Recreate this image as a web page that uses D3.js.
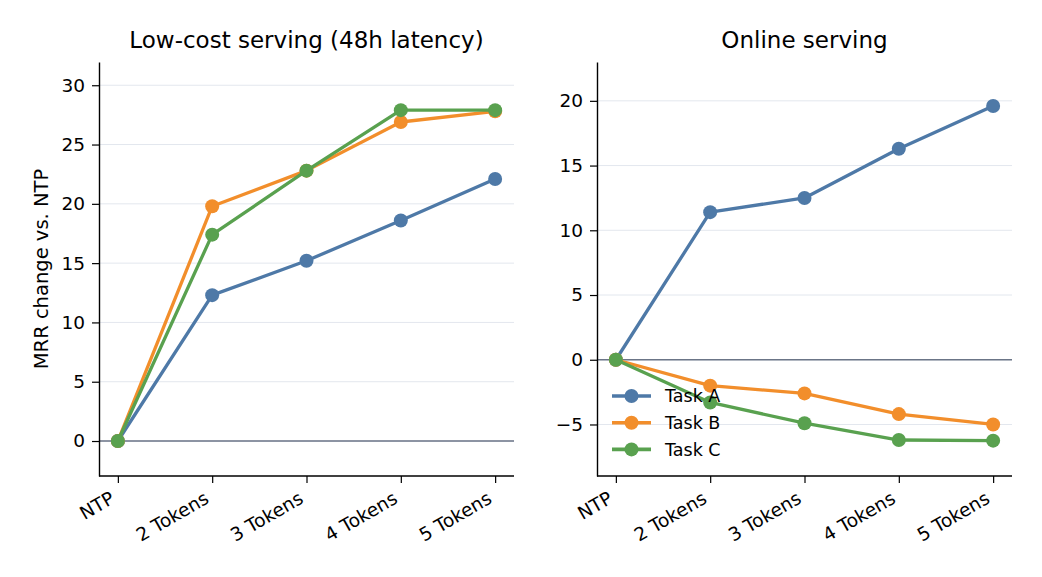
<!DOCTYPE html>
<html>
<head>
<meta charset="utf-8">
<script src="https://cdn.jsdelivr.net/npm/d3@7"></script>
<style>
  body { margin: 0; background: #fff; }
  svg { display: block; font-family: "DejaVu Sans", sans-serif; }
</style>
</head>
<body>
<div id="chart"></div>
<script>
const steps = ['NTP', '2 Tokens', '3 Tokens', '4 Tokens', '5 Tokens'];
const tasks = ['Task A', 'Task B', 'Task C'];
const taskColors = ['#4e79a7', '#f28e2b', '#59a14f'];

// low-cost serving (48h latency)
const lowCostA = [0, 12.3, 15.2, 18.6, 22.1];
const lowCostB = [0, 19.8, 22.8, 26.9, 27.8];
const lowCostC = [0, 17.4, 22.8, 27.9, 27.9];
const lowCostTicks = [0, 5, 10, 15, 20, 25, 30];

// online serving
const onlineA = [0, 11.4, 12.5, 16.3, 19.6];
const onlineB = [0, -2.0, -2.6, -4.2, -5.0];
const onlineC = [0, -3.3, -4.9, -6.2, -6.25];
const onlineTicks = [-5, 0, 5, 10, 15, 20];

const W = 1042, H = 577;
const svg = d3.select('#chart').append('svg').attr('width', W).attr('height', H);

const panels = [
  { title: 'Low-cost serving (48h latency)', left: 99, right: 514, domain: [-2.95, 31.96],
    ticks: lowCostTicks, series: [lowCostA, lowCostB, lowCostC], ylabel: 'MRR change vs. NTP', legend: false },
  { title: 'Online serving', left: 597, right: 1012, domain: [-8.98, 23.0],
    ticks: onlineTicks, series: [onlineA, onlineB, onlineC], ylabel: null, legend: true }
];
const plotTop = 62, plotBottom = 476;
const tickFont = 18.5;

panels.forEach(p => {
  const x = d3.scaleLinear().domain([-0.2, 4.2]).range([p.left, p.right]);
  const y = d3.scaleLinear().domain(p.domain).range([plotBottom, plotTop]);
  const g = svg.append('g');

  // grid
  g.selectAll('.grid').data(p.ticks).enter().append('line')
    .attr('x1', p.left).attr('x2', p.right)
    .attr('y1', d => y(d)).attr('y2', d => y(d))
    .attr('stroke', '#e3e7ee').attr('stroke-width', 1);

  // zero line
  g.append('line')
    .attr('x1', p.left).attr('x2', p.right)
    .attr('y1', y(0)).attr('y2', y(0))
    .attr('stroke', '#6b7587').attr('stroke-width', 1.4);

  // axes
  const yAxis = g.append('g').attr('transform', `translate(${p.left},0)`)
    .call(d3.axisLeft(y).tickValues(p.ticks).tickSize(7).tickPadding(7).tickSizeOuter(0));
  yAxis.select('.domain').attr('stroke', '#000').attr('stroke-width', 1.4);
  yAxis.selectAll('.tick line').attr('stroke', '#000').attr('stroke-width', 1.2);
  yAxis.selectAll('.tick text').attr('font-size', tickFont).attr('fill', '#000')
    .attr('font-family', '"DejaVu Sans", sans-serif')
    .text(d => d < 0 ? '\u2212' + Math.abs(d) : d);

  const xAxis = g.append('g').attr('transform', `translate(0,${plotBottom})`)
    .call(d3.axisBottom(x).tickValues(d3.range(steps.length)).tickFormat(i => steps[i])
      .tickSize(7).tickSizeOuter(0));
  xAxis.select('.domain').attr('stroke', '#000').attr('stroke-width', 1.4)
    .attr('d', `M${p.left},0H${p.right}`);
  xAxis.selectAll('.tick line').attr('stroke', '#000').attr('stroke-width', 1.2);
  xAxis.selectAll('.tick text').attr('font-size', tickFont).attr('fill', '#000')
    .attr('font-family', '"DejaVu Sans", sans-serif')
    .attr('text-anchor', 'end').attr('dy', null).attr('y', 0)
    .attr('transform', 'translate(-2.5,26) rotate(-30)');

  // lines + markers
  const line = d3.line().x((d, i) => x(i)).y(d => y(d));
  p.series.forEach((vals, k) => {
    g.append('path').datum(vals).attr('d', line)
      .attr('fill', 'none').attr('stroke', taskColors[k])
      .attr('stroke-width', 3.3).attr('stroke-linejoin', 'round');
    g.selectAll(null).data(vals).enter().append('circle')
      .attr('cx', (d, i) => x(i)).attr('cy', d => y(d)).attr('r', 7)
      .attr('fill', taskColors[k]);
  });

  // title
  g.append('text').attr('x', (p.left + p.right) / 2).attr('y', 48)
    .attr('text-anchor', 'middle').attr('font-size', 23).attr('fill', '#000')
    .text(p.title);

  if (p.ylabel) {
    g.append('text').attr('transform', `translate(48,${(plotTop + plotBottom) / 2}) rotate(-90)`)
      .attr('text-anchor', 'middle').attr('font-size', 19.5).attr('fill', '#000')
      .text(p.ylabel);
  }

  if (p.legend) {
    const lg = g.append('g').attr('transform', `translate(612,396)`);
    tasks.forEach((t, k) => {
      const row = lg.append('g').attr('transform', `translate(0,${k * 26.7})`);
      row.append('line').attr('x1', 0).attr('x2', 39).attr('y1', 0).attr('y2', 0)
        .attr('stroke', taskColors[k]).attr('stroke-width', 3.6);
      row.append('circle').attr('cx', 19.5).attr('cy', 0).attr('r', 7).attr('fill', taskColors[k]);
      row.append('text').attr('x', 53).attr('y', 0).attr('dy', '0.36em')
        .attr('font-size', 17.5).attr('fill', '#000').text(t);
    });
  }
});
</script>
</body>
</html>
